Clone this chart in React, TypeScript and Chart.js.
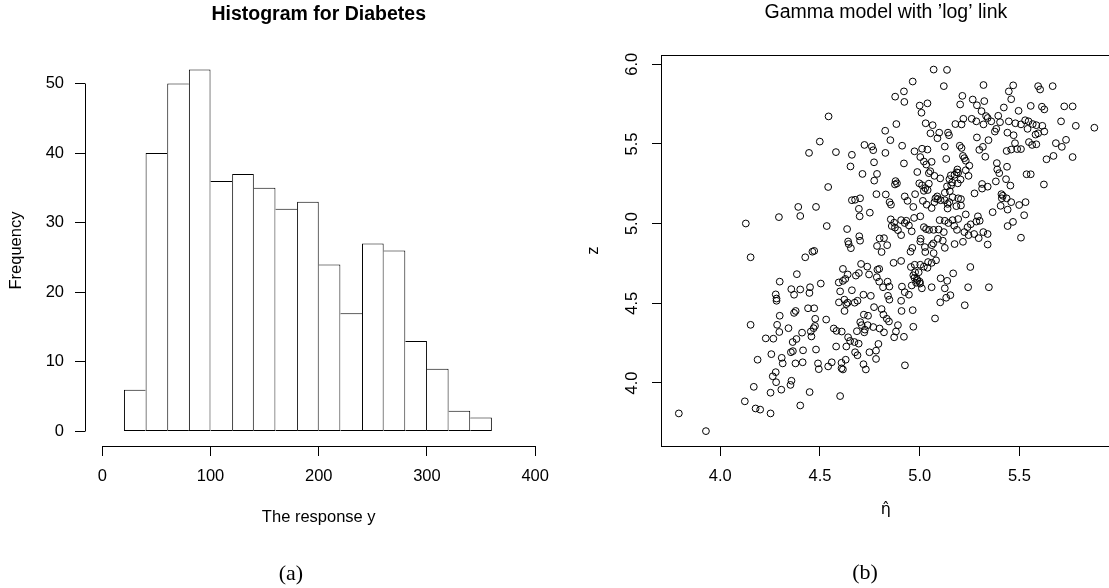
import React, { useEffect, useRef } from 'react';
import { Chart, registerables } from 'chart.js';

Chart.register(...registerables);

const FONT = "'Liberation Sans', Arial, Helvetica, sans-serif";

// ---------- Histogram (a) ----------
const histBreaks = [20, 40, 60, 80, 100, 120, 140, 160, 180, 200, 220, 240, 260, 280, 300, 320, 340, 360];
const histCounts = [6, 40, 50, 52, 36, 37, 35, 32, 33, 24, 17, 27, 26, 13, 9, 3, 2];
const histXTicks = [0, 100, 200, 300, 400];
const histYTicks = [0, 10, 20, 30, 40, 50];

// ---------- Scatter (b) ----------
const etaHat = [
  5.070, 5.137, 4.965, 5.121, 5.320, 5.469, 5.594, 5.604, 5.667, 5.447, 4.921, 4.877, 4.923, 5.214, 5.266, 5.324, 5.459, 5.000, 5.039, 5.203, 5.287, 5.557, 5.613, 5.625, 5.725, 5.767, 5.422, 5.310, 5.496,
  4.543, 5.009, 5.333, 5.341, 5.394, 5.261, 5.219, 5.284, 5.359, 5.403, 5.447, 5.480, 5.508, 5.529, 5.546, 5.567, 5.585, 5.615, 5.709, 5.783, 5.876, 5.030, 5.065, 4.883, 5.179, 5.210, 5.320, 5.384, 5.541, 4.827, 5.054, 5.098, 5.142, 5.147, 5.377, 5.440, 5.471, 5.581, 5.625, 5.594, 5.089, 5.287, 5.345, 5.478, 5.548, 5.564, 5.585, 5.683, 5.734, 4.853, 4.723, 4.760, 4.767, 4.912, 5.201, 5.210, 5.126, 5.317, 5.299, 5.459, 5.489, 5.508, 5.713, 4.499,
  4.445, 4.580, 4.660, 4.828, 4.974, 5.012, 5.039, 5.003, 5.133, 5.217, 5.224, 5.231, 5.329, 5.436, 5.671, 5.767, 5.636, 5.387, 4.653, 4.771, 4.921, 5.021, 5.033, 5.060, 5.249, 5.438, 5.189, 5.186, 5.389, 5.399, 5.245, 4.988, 5.046, 5.053, 5.074, 5.156, 5.193, 5.557, 4.713, 4.786, 4.772, 5.382, 5.433, 5.313, 5.341, 5.103, 5.149, 5.175, 5.163, 5.046, 4.998, 5.012, 4.879, 4.886, 4.876, 5.205, 5.158, 5.137, 5.455, 5.536, 5.623, 4.541, 5.191, 5.231,
  5.028, 5.040, 5.021, 5.151, 5.275, 5.313, 5.410, 5.412, 5.417, 5.126, 4.977, 4.783, 4.830, 4.925, 4.939, 5.088, 5.079, 5.091, 5.105, 5.126, 5.140, 5.149, 5.193, 5.207, 5.074, 5.165, 5.436, 5.459, 5.406, 5.441, 5.531, 5.499, 4.849, 4.856, 5.016, 5.035, 5.060, 5.140, 5.184, 5.207, 4.968, 4.391, 4.480, 4.676, 4.701, 4.660, 4.695, 4.401, 4.699, 4.750, 5.003, 5.165, 5.193, 5.231, 5.524, 5.292, 5.284, 5.301, 5.100, 5.126, 4.972, 4.855, 4.872, 4.907, 4.933, 5.366, 5.468, 4.534, 4.294,
  4.128, 4.860, 4.891, 4.925, 4.960, 5.021, 5.032, 5.047, 5.070, 5.095, 5.121, 5.173, 5.240, 5.256, 5.144, 5.187, 5.224, 5.245, 5.273, 5.296, 5.319, 5.341, 5.441, 5.508, 5.341, 4.946, 4.876, 4.907, 5.005, 5.003, 5.091, 5.116, 5.068, 5.061, 5.126, 5.175, 5.217, 5.026, 4.963, 5.028, 5.070, 4.954, 4.799, 4.821, 4.786, 4.809, 4.837, 4.636, 4.641, 4.655, 4.644, 4.701, 4.697, 4.471, 4.462, 4.426, 4.152, 5.082,
  4.956, 4.975, 5.003, 5.042, 5.060, 5.021, 5.039, 4.995, 4.977, 4.968, 4.974, 4.986, 4.989, 5.000, 4.982, 4.960, 5.002, 5.011, 5.060, 5.105, 5.168, 5.138, 5.126, 5.254, 5.243, 5.347, 4.869, 4.907, 4.911, 4.925, 4.946, 4.848, 4.839, 4.797, 4.785, 4.788, 4.706, 4.737, 4.797, 4.746, 4.695, 4.680, 4.615, 4.639, 4.627, 4.594, 4.615, 4.660, 4.718, 4.755, 4.816, 4.841, 4.848, 4.601, 4.622, 4.639, 4.595, 4.674, 4.688, 4.384, 4.356, 4.401, 4.450, 4.447, 4.370, 4.278, 4.282, 4.298, 4.504, 5.154, 5.103, 5.133,
  5.226, 5.077, 4.909, 4.965, 4.907, 4.771, 4.809, 4.818, 4.835, 4.846, 4.767, 4.739, 4.725, 4.709, 4.702, 4.741, 4.720, 4.722, 4.685, 4.799, 4.821, 4.891, 4.968, 4.881, 4.921, 4.632, 4.623, 4.531, 4.569, 4.583, 4.609, 4.641, 4.651, 4.581, 4.471, 4.440, 4.476, 4.475, 4.468, 4.454, 4.457, 4.370, 4.378, 4.410, 4.342, 4.298, 4.285, 4.296, 4.282, 4.152, 4.228, 4.266, 4.363, 4.382,
  4.673, 4.694, 4.676, 4.688, 4.748, 4.781, 4.781, 4.793, 4.718, 4.730, 4.926, 4.872, 4.632, 4.629, 4.608, 4.559, 4.541, 4.490, 4.494, 4.480, 4.415, 4.364, 4.354, 4.256, 4.187, 4.308, 4.313, 4.377, 4.413, 4.608, 4.615,
  4.263, 4.278, 4.280, 4.357, 4.352, 4.306, 4.168, 4.252, 4.448, 4.601, 4.123, 4.177, 4.200, 4.252, 4.401, 3.792, 3.928,
];
const zValue = [
  5.967, 5.965, 5.892, 5.863, 5.870, 5.868, 5.863, 5.842, 5.863, 5.830, 5.830, 5.797, 5.764, 5.802, 5.779, 5.769, 5.781, 5.741, 5.755, 5.748, 5.743, 5.739, 5.734, 5.717, 5.736, 5.736, 5.729, 5.706, 5.708,
  5.673, 5.696, 5.675, 5.663, 5.677, 5.658, 5.658, 5.642, 5.642, 5.637, 5.642, 5.630, 5.623, 5.649, 5.642, 5.625, 5.618, 5.614, 5.642, 5.614, 5.602, 5.630, 5.618, 5.625, 5.625, 5.623, 5.623, 5.595, 5.595, 5.583, 5.567, 5.571, 5.571, 5.555, 5.578, 5.571, 5.555, 5.559, 5.578, 5.567, 5.536, 5.541, 5.524, 5.505, 5.512, 5.494, 5.498, 5.505, 5.526, 5.524, 5.494, 5.484, 5.461, 5.489, 5.489, 5.475, 5.484, 5.482, 5.463, 5.465, 5.468, 5.468, 5.482, 5.515,
  5.444, 5.449, 5.432, 5.444, 5.454, 5.470, 5.465, 5.418, 5.406, 5.425, 5.411, 5.395, 5.420, 5.456, 5.425, 5.418, 5.404, 5.380, 5.359, 5.385, 5.378, 5.390, 5.371, 5.388, 5.364, 5.357, 5.340, 5.322, 5.340, 5.317, 5.300, 5.324, 5.317, 5.329, 5.300, 5.303, 5.319, 5.310, 5.312, 5.312, 5.270, 5.265, 5.279, 5.249, 5.232, 5.284, 5.279, 5.307, 5.258, 5.251, 5.253, 5.241, 5.267, 5.253, 5.246, 5.277, 5.241, 5.234, 5.239, 5.310, 5.246, 5.230, 5.253, 5.335,
  5.223, 5.211, 5.206, 5.204, 5.190, 5.220, 5.185, 5.159, 5.175, 5.194, 5.185, 5.185, 5.183, 5.171, 5.143, 5.171, 5.159, 5.154, 5.147, 5.147, 5.124, 5.135, 5.159, 5.154, 5.135, 5.166, 5.159, 5.135, 5.112, 5.088, 5.135, 5.117, 5.135, 5.119, 5.143, 5.119, 5.098, 5.095, 5.110, 5.114, 5.105, 5.105, 5.105, 5.150, 5.159, 5.147, 5.093, 5.048, 5.046, 5.069, 5.046, 5.022, 5.029, 5.058, 5.053, 5.046, 5.013, 5.018, 5.022, 5.018, 5.036, 5.027, 5.006, 5.022, 5.018, 5.072, 5.011, 4.985, 5.041,
  5.001, 4.985, 4.959, 5.004, 4.952, 4.978, 4.966, 4.961, 4.961, 4.963, 4.947, 4.987, 4.978, 4.996, 5.004, 4.961, 4.947, 4.928, 4.935, 4.909, 4.947, 4.935, 4.985, 4.912, 4.869, 4.989, 4.975, 4.928, 4.905, 4.888, 4.905, 4.893, 4.876, 4.865, 4.848, 4.872, 4.886, 4.853, 4.848, 4.822, 4.815, 4.824, 4.907, 4.909, 4.860, 4.822, 4.865, 4.966, 4.888, 4.846, 4.872, 4.893, 4.921, 4.829, 4.824, 4.789, 4.789, 4.770,
  4.728, 4.742, 4.742, 4.759, 4.754, 4.730, 4.723, 4.695, 4.695, 4.676, 4.660, 4.653, 4.645, 4.636, 4.629, 4.612, 4.624, 4.594, 4.601, 4.657, 4.688, 4.641, 4.594, 4.728, 4.601, 4.601, 4.754, 4.766, 4.605, 4.570, 4.554, 4.605, 4.636, 4.636, 4.664, 4.711, 4.747, 4.730, 4.716, 4.681, 4.690, 4.674, 4.716, 4.681, 4.653, 4.631, 4.641, 4.582, 4.554, 4.547, 4.601, 4.547, 4.523, 4.575, 4.523, 4.504, 4.506, 4.504, 4.516, 4.683, 4.589, 4.587, 4.601, 4.565, 4.554, 4.556, 4.530, 4.636, 4.624, 4.551, 4.506, 4.535,
  4.488, 4.405, 4.452, 4.457, 4.516, 4.476, 4.464, 4.429, 4.403, 4.386, 4.351, 4.363, 4.335, 4.363, 4.382, 4.422, 4.429, 4.318, 4.325, 4.342, 4.318, 4.363, 4.353, 4.323, 4.290, 4.495, 4.452, 4.398, 4.342, 4.327, 4.323, 4.287, 4.264, 4.229, 4.469, 4.469, 4.403, 4.358, 4.344, 4.323, 4.292, 4.440, 4.452, 4.316, 4.344, 4.422, 4.365, 4.320, 4.516, 4.365, 4.280, 4.278, 4.257, 4.276,
  4.257, 4.247, 4.193, 4.174, 4.193, 4.203, 4.151, 4.245, 4.118, 4.085, 4.111, 4.287, 4.229, 4.146, 4.127, 4.130, 4.104, 4.123, 4.087, 4.210, 4.205, 4.200, 4.193, 4.181, 4.146, 4.158, 4.123, 4.123, 4.130, 4.092, 4.085,
  4.042, 4.068, 4.005, 4.014, 3.988, 3.958, 3.976, 3.939, 3.943, 3.918, 3.885, 3.840, 3.833, 3.809, 3.859, 3.809, 3.698,
];
const scatterXTicks = [4.0, 4.5, 5.0, 5.5];
const scatterYTicks = [4.0, 4.5, 5.0, 5.5, 6.0];

const align = (p: number) => Math.round(p - 0.5) + 0.5;

const histAxesPlugin = {
  id: 'histAxes',
  afterDraw(chart: any) {
    const { ctx, chartArea, scales } = chart;
    const xs = scales.x;
    const ys = scales.y;
    ctx.save();
    ctx.strokeStyle = '#000';
    ctx.lineWidth = 1;
    ctx.beginPath();
    const ax = Math.round(chartArea.left) + 0.5;
    ctx.moveTo(ax, align(ys.getPixelForValue(histYTicks[0])));
    ctx.lineTo(ax, align(ys.getPixelForValue(histYTicks[histYTicks.length - 1])));
    const ay = Math.round(chartArea.bottom) + 0.5;
    ctx.moveTo(align(xs.getPixelForValue(histXTicks[0])), ay);
    ctx.lineTo(align(xs.getPixelForValue(histXTicks[histXTicks.length - 1])), ay);
    ctx.stroke();
    ctx.restore();
  },
};

const boxPlugin = {
  id: 'boxFrame',
  afterDraw(chart: any) {
    const { ctx, chartArea } = chart;
    ctx.save();
    ctx.strokeStyle = '#000';
    ctx.lineWidth = 1;
    const l = Math.round(chartArea.left) + 0.5;
    const t = Math.round(chartArea.top) + 0.5;
    const r = Math.round(chartArea.right) + 0.5;
    const b = Math.round(chartArea.bottom) + 0.5;
    ctx.strokeRect(l, t, r - l, b - t);
    ctx.restore();
  },
};

const tickFont = { family: FONT, size: 16.5 };
const titleFont = { family: FONT, size: 16.5 };

export default function App() {
  const leftRef = useRef<HTMLCanvasElement>(null);
  const rightRef = useRef<HTMLCanvasElement>(null);

  useEffect(() => {
    const mids = histCounts.map((_, i) => (histBreaks[i] + histBreaks[i + 1]) / 2);
    const n = histCounts.length;

    const left = new Chart(leftRef.current as HTMLCanvasElement, {
      type: 'bar',
      data: {
        datasets: [
          {
            data: mids.map((x, i) => ({ x, y: histCounts[i] })),
            backgroundColor: '#ffffff',
            borderColor: '#000000',
            borderSkipped: false,
            inflateAmount: 0,
            barPercentage: 1,
            categoryPercentage: 1,
            borderWidth: (ctx: any) => {
              const i = ctx.dataIndex;
              return {
                top: 1,
                bottom: 1,
                left: i === 0 || histCounts[i - 1] <= histCounts[i] ? 1 : 0,
                right: i === n - 1 || histCounts[i + 1] < histCounts[i] ? 1 : 0,
              };
            },
          } as any,
        ],
      },
      options: {
        responsive: false,
        animation: false,
        devicePixelRatio: 1,
        events: [],
        layout: { padding: { left: 0, right: 7, top: 0, bottom: 0 } },
        plugins: {
          legend: { display: false },
          tooltip: { enabled: false },
          title: {
            display: true,
            text: 'Histogram for Diabetes',
            fullSize: false,
            color: '#000',
            font: { family: FONT, size: 19.5, weight: 'bold' },
            padding: { top: 3.3, bottom: 28.3 },
          },
        },
        scales: {
          x: {
            type: 'linear',
            min: -16,
            max: 416,
            offset: false,
            afterBuildTicks: (s: any) => {
              s.ticks = histXTicks.map((v) => ({ value: v }));
            },
            afterFit: (s: any) => {
              s.height = 142;
            },
            grid: { display: true, drawOnChartArea: false, drawTicks: true, tickLength: 10, color: '#000', lineWidth: 1, offset: false },
            border: { display: false },
            ticks: { color: '#000', font: tickFont, padding: 10.8, maxRotation: 0, minRotation: 0, autoSkip: false, callback: (v: any) => String(v) },
            title: { display: true, text: 'The response y', color: '#000', font: titleFont, padding: { top: 0, bottom: 61.1 } },
          },
          y: {
            type: 'linear',
            min: -2.08,
            max: 54.08,
            afterBuildTicks: (s: any) => {
              s.ticks = histYTicks.map((v) => ({ value: v }));
            },
            afterFit: (s: any) => {
              s.width = 85;
            },
            grid: { display: true, drawOnChartArea: false, drawTicks: true, tickLength: 10, color: '#000', lineWidth: 1 },
            border: { display: false },
            ticks: { color: '#000', font: tickFont, padding: 11, autoSkip: false, callback: (v: any) => String(v) },
            title: { display: true, text: 'Frequency', color: '#000', font: titleFont, padding: { top: 6.1, bottom: 0 } },
          },
        },
      } as any,
      plugins: [histAxesPlugin],
    });

    const right = new Chart(rightRef.current as HTMLCanvasElement, {
      type: 'scatter',
      data: {
        datasets: [
          {
            data: etaHat.map((x, i) => ({ x, y: zValue[i] })),
            pointStyle: 'circle',
            pointRadius: 3.4,
            pointHoverRadius: 3.4,
            pointBorderWidth: 1,
            pointBorderColor: '#000',
            pointBackgroundColor: 'rgba(0,0,0,0)',
            showLine: false,
          } as any,
        ],
      },
      options: {
        responsive: false,
        animation: false,
        devicePixelRatio: 1,
        events: [],
        layout: { padding: { left: 0, right: 9.3, top: 0, bottom: 0 } },
        plugins: {
          legend: { display: false },
          tooltip: { enabled: false },
          title: {
            display: true,
            text: 'Gamma model with \u2019log\u2019 link',
            fullSize: false,
            color: '#000',
            font: { family: FONT, size: 19.5, weight: 'normal' },
            padding: { top: 1.3, bottom: 30.3 },
          },
        },
        scales: {
          x: {
            type: 'linear',
            min: 3.7026,
            max: 5.958,
            afterBuildTicks: (s: any) => {
              s.ticks = scatterXTicks.map((v) => ({ value: v }));
            },
            afterFit: (s: any) => {
              s.height = 142;
            },
            grid: { display: true, drawOnChartArea: false, drawTicks: true, tickLength: 10, color: '#000', lineWidth: 1 },
            border: { display: false },
            ticks: { color: '#000', font: tickFont, padding: 10.8, maxRotation: 0, minRotation: 0, autoSkip: false, callback: (v: any) => Number(v).toFixed(1) },
            title: { display: true, text: '\u03B7\u0302', color: '#000', font: { family: "'DejaVu Sans', sans-serif", size: 16 }, padding: { top: 0, bottom: 68.1 } },
          },
          y: {
            type: 'linear',
            min: 3.6046,
            max: 6.0584,
            afterBuildTicks: (s: any) => {
              s.ticks = scatterYTicks.map((v) => ({ value: v }));
            },
            afterFit: (s: any) => {
              s.width = 101;
            },
            grid: { display: true, drawOnChartArea: false, drawTicks: true, tickLength: 9, color: '#000', lineWidth: 1 },
            border: { display: false },
            ticks: { color: '#000', font: tickFont, padding: 8, minRotation: 90, maxRotation: 90, crossAlign: 'center', autoSkip: false, callback: (v: any) => Number(v).toFixed(1) },
            title: { display: true, text: 'z', color: '#000', font: titleFont, padding: { top: 23.1, bottom: 0 } },
          },
        },
      } as any,
      plugins: [boxPlugin],
    });

    return () => {
      left.destroy();
      right.destroy();
    };
  }, []);

  const captionStyle: React.CSSProperties = {
    position: 'absolute',
    width: 100,
    textAlign: 'center',
    fontFamily: "'Liberation Serif', 'DejaVu Serif', serif",
    fontSize: 22,
    lineHeight: '24px',
    color: '#000',
  };

  return (
    <div style={{ position: 'fixed', left: 0, top: 0, width: 1109, height: 588, overflow: 'hidden', background: '#fff' }}>
      <canvas ref={leftRef} width={560} height={588} style={{ position: 'absolute', left: 0, top: 0 }} />
      <canvas ref={rightRef} width={560} height={588} style={{ position: 'absolute', left: 560, top: 0 }} />
      <div style={{ ...captionStyle, left: 241, top: 561 }}>(a)</div>
      <div style={{ ...captionStyle, left: 815, top: 560 }}>(b)</div>
    </div>
  );
}
